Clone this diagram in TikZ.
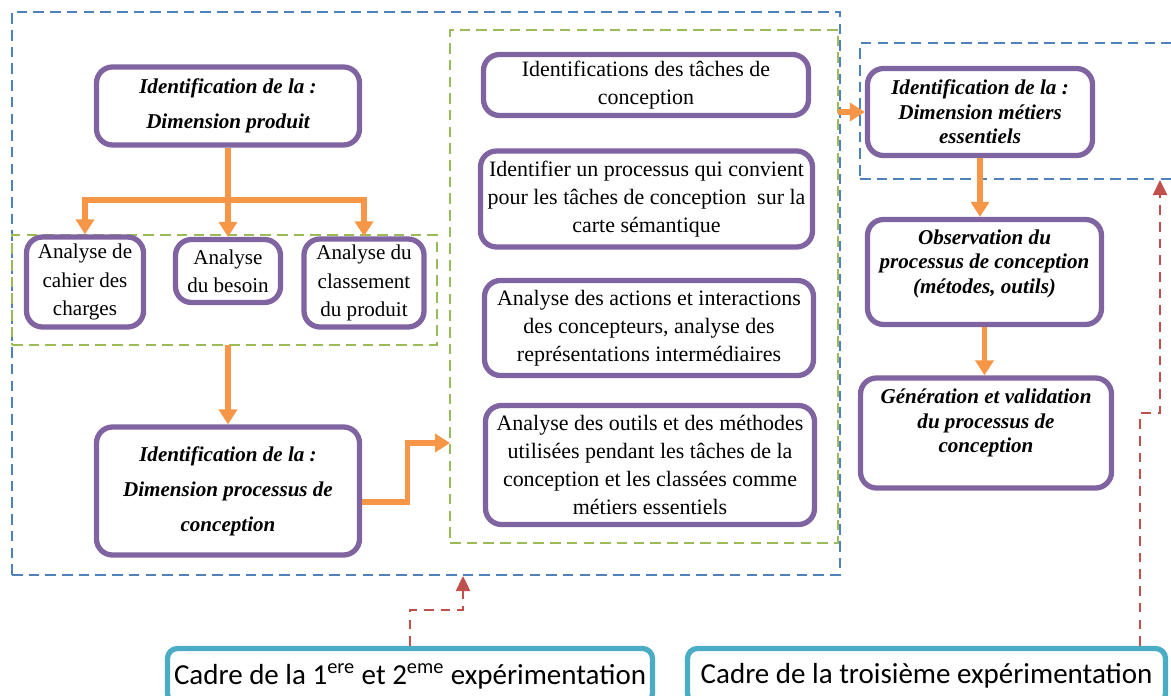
\documentclass[tikz,border=0pt]{standalone}
\usepackage{fontspec}
\setmainfont{Liberation Serif}
\newfontfamily\cadrefont{Carlito}
\usetikzlibrary{arrows.meta}

\definecolor{boxpurple}{HTML}{8064A2}
\definecolor{arrorange}{HTML}{F79646}
\definecolor{zoneblue}{HTML}{4F81BD}
\definecolor{zonegreen}{HTML}{9BBB59}
\definecolor{linkred}{HTML}{C0504D}
\definecolor{cadreteal}{HTML}{4BACC6}

\begin{document}
\begin{tikzpicture}[
  box/.style    = {draw=boxpurple, line width=3pt, rounded corners=0.32cm,
                   fill=white, align=center, inner sep=2pt,
                   font=\fontsize{12}{16}\selectfont},
  tbox/.style   = {box, font=\fontsize{12.5}{16}\selectfont},
  dimbox/.style = {box, font=\fontsize{12}{14}\selectfont\bfseries\itshape},
  cadre/.style  = {draw=cadreteal, line width=3pt, rounded corners=0.2cm,
                   fill=white, align=center, inner sep=2pt,
                   font=\cadrefont\fontsize{16.5}{20}\selectfont},
  zone/.style   = {draw=#1, line width=1.4pt, dash pattern=on 6pt off 3.5pt,
                   outer sep=0pt, inner sep=0pt},
  arr/.style    = {-{Triangle[width=0.36cm,length=0.3cm]}, draw=arrorange,
                   line width=3pt},
  redarr/.style = {-{Triangle[width=0.28cm,length=0.3cm]}, draw=linkred,
                   line width=1.4pt, dash pattern=on 5.5pt off 4pt}
]
  \useasboundingbox (0,0) rectangle (23.42,-13.92);

  % Dashed zones
  \node[zone=zoneblue, minimum width=16.56cm, minimum height=11.26cm]
      (zoneA) at (8.52,-5.87) {};
  \node[zone=zonegreen, minimum width=7.76cm, minimum height=10.26cm]
      (zoneB) at (12.88,-5.73) {};
  \node[zone=zonegreen, minimum width=8.50cm, minimum height=2.20cm]
      (zoneC) at (4.49,-5.80) {};
  \node[zone=zoneblue, minimum width=6.60cm, minimum height=2.72cm]
      (zoneD) at (20.50,-2.22) {};

  % Dimension produit
  \node[dimbox, font=\fontsize{12}{20}\selectfont\bfseries\itshape,
        minimum width=5.26cm, minimum height=1.56cm]
      (prod) at (4.56,-2.12) {Identification de la :\\Dimension produit};
  \node[box, minimum width=2.34cm, minimum height=1.80cm]
      (cahier) at (1.70,-5.64) {Analyse de\\cahier des\\charges};
  \node[box, minimum width=2.10cm, minimum height=1.26cm]
      (besoin) at (4.56,-5.42) {Analyse\\du besoin};
  \node[box, minimum width=2.40cm, minimum height=1.76cm]
      (classement) at (7.28,-5.66) {Analyse du\\classement\\du produit};

  % Dimension processus
  \node[dimbox, font=\fontsize{12}{20}\selectfont\bfseries\itshape,
        minimum width=5.26cm, minimum height=2.56cm]
      (proc) at (4.56,-9.82)
      {Identification de la :\\Dimension processus de\\conception};

  % Taches de conception
  \node[tbox, minimum width=6.50cm, minimum height=1.22cm]
      (taches) at (12.92,-1.70) {Identifications des tâches de\\conception};
  \node[tbox, minimum width=6.64cm, minimum height=1.92cm]
      (carte) at (12.93,-3.98)
      {Identifier un processus qui convient\\pour les tâches de conception~ sur la\\carte sémantique};
  \node[tbox, minimum width=6.58cm, minimum height=1.90cm]
      (actions) at (12.98,-6.56)
      {Analyse des actions et interactions\\des concepteurs, analyse des\\représentations intermédiaires};
  \node[tbox, minimum width=6.58cm, minimum height=2.38cm]
      (outils) at (13.00,-9.30)
      {Analyse des outils et des méthodes\\utilisées pendant les tâches de la\\conception et les classées comme\\métiers essentiels};

  % Dimension metiers
  \node[dimbox, minimum width=4.50cm, minimum height=1.74cm]
      (metiers) at (19.60,-2.24)
      {Identification de la :\\Dimension métiers\\essentiels};
  \node[dimbox, minimum width=4.68cm, minimum height=2.10cm]
      (observ) at (19.69,-5.44)
      {Observation du\\processus de conception\\(métodes, outils)\\[-2pt]};
  \node[dimbox, minimum width=5.02cm, minimum height=2.20cm]
      (gener) at (19.72,-8.66)
      {Génération et validation\\du processus de\\conception\\~};

  % Cadres
  \node[cadre, minimum width=9.70cm, minimum height=1.10cm]
      (cadre1) at (8.20,-13.52)
      {Cadre de la 1\textsuperscript{ere} et 2\textsuperscript{eme} expérimentation};
  \node[cadre, minimum width=9.56cm, minimum height=1.10cm]
      (cadre3) at (18.53,-13.52) {Cadre de la troisième expérimentation};

  % Arrows: produit -> analyses
  \draw[arr] (prod.south) -- ++(0,-1.05) -| (cahier.north);
  \draw[arr] (prod.south) -- (besoin.north);
  \draw[arr] (prod.south) -- ++(0,-1.05) -| (classement.north);

  % Analyses -> processus -> taches
  \draw[arr] (zoneC.south -| proc.north) -- (proc.north);
  \coordinate (inB) at (9.0,-8.86);
  \draw[arr] ([yshift=-0.22cm]proc.east) -- ++(0.9,0) |- (inB);

  % Taches -> metiers
  \draw[arr] (zoneB.east |- metiers.west) -- (metiers.west);
  \draw[arr] (metiers.south) -- (metiers.south |- observ.north);
  \draw[arr] (observ.south) -- (observ.south |- gener.north);

  % Cadres -> zones
  \coordinate (inA) at (9.26,-11.52);
  \draw[redarr] (cadre1.north) -- ++(0,0.72) -| (inA);
  \coordinate (inD) at (23.20,-3.60);
  \draw[redarr] ([xshift=-0.56cm]cadre3.north east) -- ++(0,4.66) -| (inD);

\end{tikzpicture}
\end{document}
